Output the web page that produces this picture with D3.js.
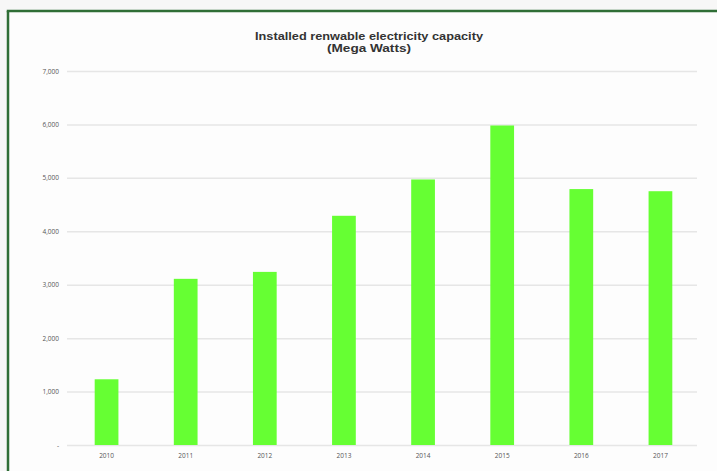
<!DOCTYPE html>
<html>
<head>
<meta charset="utf-8">
<script src="https://cdn.jsdelivr.net/npm/d3@7/dist/d3.min.js"></script>
<style>
  html, body { margin: 0; padding: 0; background: #f7f7f7; overflow: hidden; }
  svg { display: block; }
  .tick text { font-family: "Open Sans", "DejaVu Sans", sans-serif; }
</style>
</head>
<body>
<script>
// Installed renewable capacity by year (MW)
const years = ["2010", "2011", "2012", "2013", "2014", "2015", "2016", "2017"];
const capacity = [1230, 3110, 3240, 4290, 4970, 5980, 4790, 4750];
const yTicks = [0, 1000, 2000, 3000, 4000, 5000, 6000, 7000];
const titleLines = ["Installed renwable electricity capacity", "(Mega Watts)"];
const titleWidths = [228, 84];

const W = 717, H = 471;
const plot = { left: 67, right: 700, top: 71, bottom: 445 };

const svg = d3.select("body").append("svg")
  .attr("width", W).attr("height", H);

// framed panel: white card with a green rule along the top and left
svg.append("rect")
  .attr("x", 0).attr("y", 0).attr("width", W).attr("height", H)
  .attr("fill", "#f7f7f7");
svg.append("rect")
  .attr("x", 8).attr("y", 11).attr("width", W - 8).attr("height", H - 11)
  .attr("fill", "#fdfdfd");
svg.append("line")
  .attr("x1", 8).attr("y1", 11).attr("x2", 8).attr("y2", H)
  .attr("stroke", "#2f6e36").attr("stroke-width", 2.5);
svg.append("line")
  .attr("x1", 6.75).attr("y1", 11).attr("x2", W).attr("y2", 11)
  .attr("stroke", "#2f6e36").attr("stroke-width", 2.5);

const x = d3.scaleBand()
  .domain(years)
  .range([plot.left, plot.right])
  .paddingInner(0.7)
  .paddingOuter(0.35);

const y = d3.scaleLinear()
  .domain([0, 7000])
  .range([plot.bottom, plot.top]);

const fmt = v => v === 0 ? "-" : d3.format(",")(v);

// horizontal gridlines + value labels
const yAxis = svg.append("g")
  .attr("transform", `translate(${plot.left},0)`)
  .call(d3.axisLeft(y).tickValues(yTicks).tickFormat(fmt)
    .tickSize(-(plot.right - 3 - plot.left)).tickPadding(8));
yAxis.select(".domain").remove();
yAxis.selectAll(".tick line").attr("stroke", "#e6e6e6").attr("stroke-width", 1.5);
yAxis.selectAll(".tick text").attr("font-size", 6.5).attr("fill", "#555");

// bars
svg.append("g").selectAll("rect")
  .data(years)
  .join("rect")
  .attr("x", d => x(d))
  .attr("width", x.bandwidth())
  .attr("y", (d, i) => y(capacity[i]))
  .attr("height", (d, i) => y(0) - y(capacity[i]))
  .attr("fill", "#66ff33");

// year labels
const xAxis = svg.append("g")
  .attr("transform", `translate(0,${plot.bottom})`)
  .call(d3.axisBottom(x).tickSize(0).tickPadding(8));
xAxis.select(".domain").remove();
xAxis.selectAll(".tick text").attr("font-size", 6.5).attr("fill", "#555");

// title
svg.append("g").selectAll("text")
  .data(titleLines)
  .join("text")
  .attr("x", 369)
  .attr("y", (d, i) => 40 + i * 11.5)
  .attr("text-anchor", "middle")
  .attr("font-family", "'Liberation Sans', Arial, sans-serif")
  .attr("font-weight", "bold")
  .attr("font-size", 10)
  .attr("textLength", (d, i) => titleWidths[i])
  .attr("lengthAdjust", "spacingAndGlyphs")
  .attr("fill", "#333")
  .text(d => d);
</script>
</body>
</html>
